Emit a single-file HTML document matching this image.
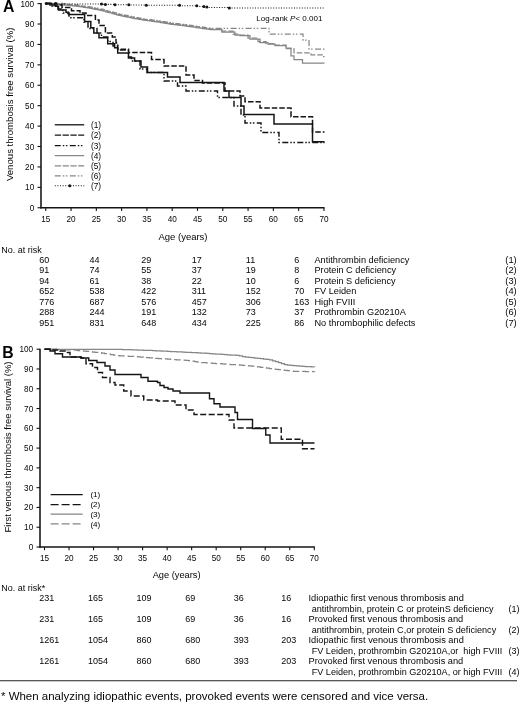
<!DOCTYPE html>
<html><head><meta charset="utf-8"><title>Figure</title>
<style>
html,body{margin:0;padding:0;background:#fff;}
body{width:520px;height:703px;overflow:hidden;font-family:"Liberation Sans", sans-serif;}
svg{display:block;font-family:"Liberation Sans", sans-serif;fill:#050505;will-change:transform;opacity:0.999;}
svg path,svg line{shape-rendering:auto;}
</style></head><body>
<svg width="520" height="703" viewBox="0 0 520 703">
<rect x="0" y="0" width="520" height="703" fill="#ffffff"/>
<line x1="41.00" y1="3.10" x2="41.00" y2="208.45" stroke="#141414" stroke-width="1.55"/><line x1="40.30" y1="207.75" x2="324.54" y2="207.75" stroke="#141414" stroke-width="1.55"/><line x1="37.50" y1="207.75" x2="41.00" y2="207.75" stroke="#141414" stroke-width="1.1"/><text x="34.20" y="210.80" font-size="8.2" text-anchor="end">0</text><line x1="37.50" y1="187.34" x2="41.00" y2="187.34" stroke="#141414" stroke-width="1.1"/><text x="34.20" y="190.39" font-size="8.2" text-anchor="end">10</text><line x1="37.50" y1="166.92" x2="41.00" y2="166.92" stroke="#141414" stroke-width="1.1"/><text x="34.20" y="169.97" font-size="8.2" text-anchor="end">20</text><line x1="37.50" y1="146.50" x2="41.00" y2="146.50" stroke="#141414" stroke-width="1.1"/><text x="34.20" y="149.56" font-size="8.2" text-anchor="end">30</text><line x1="37.50" y1="126.09" x2="41.00" y2="126.09" stroke="#141414" stroke-width="1.1"/><text x="34.20" y="129.14" font-size="8.2" text-anchor="end">40</text><line x1="37.50" y1="105.67" x2="41.00" y2="105.67" stroke="#141414" stroke-width="1.1"/><text x="34.20" y="108.72" font-size="8.2" text-anchor="end">50</text><line x1="37.50" y1="85.26" x2="41.00" y2="85.26" stroke="#141414" stroke-width="1.1"/><text x="34.20" y="88.31" font-size="8.2" text-anchor="end">60</text><line x1="37.50" y1="64.84" x2="41.00" y2="64.84" stroke="#141414" stroke-width="1.1"/><text x="34.20" y="67.89" font-size="8.2" text-anchor="end">70</text><line x1="37.50" y1="44.43" x2="41.00" y2="44.43" stroke="#141414" stroke-width="1.1"/><text x="34.20" y="47.48" font-size="8.2" text-anchor="end">80</text><line x1="37.50" y1="24.01" x2="41.00" y2="24.01" stroke="#141414" stroke-width="1.1"/><text x="34.20" y="27.06" font-size="8.2" text-anchor="end">90</text><line x1="37.50" y1="3.60" x2="41.00" y2="3.60" stroke="#141414" stroke-width="1.1"/><text x="34.20" y="6.65" font-size="8.2" text-anchor="end">100</text><line x1="45.75" y1="207.75" x2="45.75" y2="210.95" stroke="#141414" stroke-width="1.1"/><text x="45.75" y="222.05" font-size="8.2" text-anchor="middle">15</text><line x1="71.04" y1="207.75" x2="71.04" y2="210.95" stroke="#141414" stroke-width="1.1"/><text x="71.04" y="222.05" font-size="8.2" text-anchor="middle">20</text><line x1="96.33" y1="207.75" x2="96.33" y2="210.95" stroke="#141414" stroke-width="1.1"/><text x="96.33" y="222.05" font-size="8.2" text-anchor="middle">25</text><line x1="121.62" y1="207.75" x2="121.62" y2="210.95" stroke="#141414" stroke-width="1.1"/><text x="121.62" y="222.05" font-size="8.2" text-anchor="middle">30</text><line x1="146.91" y1="207.75" x2="146.91" y2="210.95" stroke="#141414" stroke-width="1.1"/><text x="146.91" y="222.05" font-size="8.2" text-anchor="middle">35</text><line x1="172.20" y1="207.75" x2="172.20" y2="210.95" stroke="#141414" stroke-width="1.1"/><text x="172.20" y="222.05" font-size="8.2" text-anchor="middle">40</text><line x1="197.49" y1="207.75" x2="197.49" y2="210.95" stroke="#141414" stroke-width="1.1"/><text x="197.49" y="222.05" font-size="8.2" text-anchor="middle">45</text><line x1="222.78" y1="207.75" x2="222.78" y2="210.95" stroke="#141414" stroke-width="1.1"/><text x="222.78" y="222.05" font-size="8.2" text-anchor="middle">50</text><line x1="248.07" y1="207.75" x2="248.07" y2="210.95" stroke="#141414" stroke-width="1.1"/><text x="248.07" y="222.05" font-size="8.2" text-anchor="middle">55</text><line x1="273.36" y1="207.75" x2="273.36" y2="210.95" stroke="#141414" stroke-width="1.1"/><text x="273.36" y="222.05" font-size="8.2" text-anchor="middle">60</text><line x1="298.65" y1="207.75" x2="298.65" y2="210.95" stroke="#141414" stroke-width="1.1"/><text x="298.65" y="222.05" font-size="8.2" text-anchor="middle">65</text><line x1="323.94" y1="207.75" x2="323.94" y2="210.95" stroke="#141414" stroke-width="1.1"/><text x="323.94" y="222.05" font-size="8.2" text-anchor="middle">70</text>
<line x1="40.00" y1="348.70" x2="40.00" y2="547.70" stroke="#141414" stroke-width="1.55"/><line x1="39.30" y1="547.00" x2="314.88" y2="547.00" stroke="#141414" stroke-width="1.55"/><line x1="36.50" y1="547.00" x2="40.00" y2="547.00" stroke="#141414" stroke-width="1.1"/><text x="33.20" y="550.05" font-size="8.2" text-anchor="end">0</text><line x1="36.50" y1="527.22" x2="40.00" y2="527.22" stroke="#141414" stroke-width="1.1"/><text x="33.20" y="530.27" font-size="8.2" text-anchor="end">10</text><line x1="36.50" y1="507.44" x2="40.00" y2="507.44" stroke="#141414" stroke-width="1.1"/><text x="33.20" y="510.49" font-size="8.2" text-anchor="end">20</text><line x1="36.50" y1="487.66" x2="40.00" y2="487.66" stroke="#141414" stroke-width="1.1"/><text x="33.20" y="490.71" font-size="8.2" text-anchor="end">30</text><line x1="36.50" y1="467.88" x2="40.00" y2="467.88" stroke="#141414" stroke-width="1.1"/><text x="33.20" y="470.93" font-size="8.2" text-anchor="end">40</text><line x1="36.50" y1="448.10" x2="40.00" y2="448.10" stroke="#141414" stroke-width="1.1"/><text x="33.20" y="451.15" font-size="8.2" text-anchor="end">50</text><line x1="36.50" y1="428.32" x2="40.00" y2="428.32" stroke="#141414" stroke-width="1.1"/><text x="33.20" y="431.37" font-size="8.2" text-anchor="end">60</text><line x1="36.50" y1="408.54" x2="40.00" y2="408.54" stroke="#141414" stroke-width="1.1"/><text x="33.20" y="411.59" font-size="8.2" text-anchor="end">70</text><line x1="36.50" y1="388.76" x2="40.00" y2="388.76" stroke="#141414" stroke-width="1.1"/><text x="33.20" y="391.81" font-size="8.2" text-anchor="end">80</text><line x1="36.50" y1="368.98" x2="40.00" y2="368.98" stroke="#141414" stroke-width="1.1"/><text x="33.20" y="372.03" font-size="8.2" text-anchor="end">90</text><line x1="36.50" y1="349.20" x2="40.00" y2="349.20" stroke="#141414" stroke-width="1.1"/><text x="33.20" y="352.25" font-size="8.2" text-anchor="end">100</text><line x1="44.50" y1="547.00" x2="44.50" y2="550.20" stroke="#141414" stroke-width="1.1"/><text x="44.50" y="561.30" font-size="8.2" text-anchor="middle">15</text><line x1="69.03" y1="547.00" x2="69.03" y2="550.20" stroke="#141414" stroke-width="1.1"/><text x="69.03" y="561.30" font-size="8.2" text-anchor="middle">20</text><line x1="93.55" y1="547.00" x2="93.55" y2="550.20" stroke="#141414" stroke-width="1.1"/><text x="93.55" y="561.30" font-size="8.2" text-anchor="middle">25</text><line x1="118.08" y1="547.00" x2="118.08" y2="550.20" stroke="#141414" stroke-width="1.1"/><text x="118.08" y="561.30" font-size="8.2" text-anchor="middle">30</text><line x1="142.60" y1="547.00" x2="142.60" y2="550.20" stroke="#141414" stroke-width="1.1"/><text x="142.60" y="561.30" font-size="8.2" text-anchor="middle">35</text><line x1="167.12" y1="547.00" x2="167.12" y2="550.20" stroke="#141414" stroke-width="1.1"/><text x="167.12" y="561.30" font-size="8.2" text-anchor="middle">40</text><line x1="191.65" y1="547.00" x2="191.65" y2="550.20" stroke="#141414" stroke-width="1.1"/><text x="191.65" y="561.30" font-size="8.2" text-anchor="middle">45</text><line x1="216.18" y1="547.00" x2="216.18" y2="550.20" stroke="#141414" stroke-width="1.1"/><text x="216.18" y="561.30" font-size="8.2" text-anchor="middle">50</text><line x1="240.70" y1="547.00" x2="240.70" y2="550.20" stroke="#141414" stroke-width="1.1"/><text x="240.70" y="561.30" font-size="8.2" text-anchor="middle">55</text><line x1="265.23" y1="547.00" x2="265.23" y2="550.20" stroke="#141414" stroke-width="1.1"/><text x="265.23" y="561.30" font-size="8.2" text-anchor="middle">60</text><line x1="289.75" y1="547.00" x2="289.75" y2="550.20" stroke="#141414" stroke-width="1.1"/><text x="289.75" y="561.30" font-size="8.2" text-anchor="middle">65</text><line x1="314.28" y1="547.00" x2="314.28" y2="550.20" stroke="#141414" stroke-width="1.1"/><text x="314.28" y="561.30" font-size="8.2" text-anchor="middle">70</text>
<path d="M46.20 4.00 H48.40 V4.11 H50.60 V4.22 H52.80 V4.33 H55.00 V4.45 H57.20 V4.56 H59.40 V4.67 H61.60 V4.83 H63.80 V5.01 H66.00 V5.19 H68.20 V5.37 H70.40 V5.55 H72.60 V5.81 H74.80 V6.11 H77.00 V6.40 H79.20 V6.69 H81.40 V6.99 H83.60 V7.28 H85.80 V7.57 H88.00 V7.99 H90.20 V8.41 H92.40 V8.84 H94.60 V9.26 H96.80 V9.69 H99.00 V10.12 H101.20 V10.54 H103.40 V11.13 H105.60 V11.75 H107.80 V12.37 H110.00 V12.99 H112.20 V13.61 H114.40 V14.23 H116.60 V14.84 H118.80 V15.46 H121.00 V15.99 H123.20 V16.41 H125.40 V16.83 H127.60 V17.24 H129.80 V17.66 H132.00 V18.08 H134.20 V18.50 H136.40 V18.92 H138.60 V19.33 H140.80 V19.71 H143.00 V20.02 H145.20 V20.33 H147.40 V20.64 H149.60 V20.94 H151.80 V21.25 H154.00 V21.56 H156.20 V21.87 H158.40 V22.18 H160.60 V22.51 H162.80 V22.90 H165.00 V23.30 H167.20 V23.70 H169.40 V24.09 H171.60 V24.39 H173.80 V24.66 H176.00 V24.92 H178.20 V25.18 H180.40 V25.45 H182.60 V25.71 H184.80 V25.98 H187.00 V26.29 H189.20 V26.60 H191.40 V26.92 H193.60 V27.24 H195.80 V27.56 H198.00 V27.87 H200.20 V28.19 H202.40 V28.51 H204.60 V28.82 H206.80 V29.14 H209.00 V29.46 H210.00 V29.60 H222.00 V32.00 H235.00 V35.00 H240.00 V35.60 H250.00 V39.00 H260.00 V42.50 H268.00 V44.00 H275.00 V45.50 H286.00 V48.00 H291.00 V55.80 H294.00 V59.60 H302.50 V63.00 H324.50 V63.00" fill="none" stroke="#868686" stroke-width="1.25"/>
<path d="M46.20 3.40 H49.30 V3.56 H52.40 V3.71 H55.50 V3.87 H58.60 V4.03 H61.70 V4.24 H64.80 V4.49 H67.90 V4.75 H71.00 V5.00 H74.10 V5.41 H77.20 V5.83 H80.30 V6.24 H83.40 V6.65 H86.50 V7.10 H89.60 V7.70 H92.70 V8.30 H95.80 V8.90 H98.90 V9.50 H102.00 V10.14 H105.10 V11.01 H108.20 V11.88 H111.30 V12.75 H114.40 V13.63 H117.50 V14.50 H120.60 V15.31 H123.70 V15.90 H126.80 V16.49 H129.90 V17.08 H133.00 V17.67 H136.10 V18.26 H139.20 V18.85 H142.30 V19.32 H145.40 V19.76 H148.50 V20.19 H151.60 V20.62 H154.70 V21.06 H157.80 V21.49 H160.90 V21.96 H164.00 V22.52 H167.10 V23.08 H170.20 V23.62 H173.30 V24.00 H176.40 V24.37 H179.50 V24.74 H182.60 V25.11 H185.70 V25.50 H188.80 V25.95 H191.90 V26.39 H195.00 V26.84 H198.10 V27.29 H201.20 V27.73 H204.30 V28.18 H207.40 V28.63 H210.00 V29.00 H220.00 V31.20 H233.00 V34.20 H240.00 V35.20 H248.00 V38.00 H258.00 V41.50 H266.00 V43.50 H275.00 V45.00 H286.00 V48.50 H294.00 V52.90 H311.00 V54.80 H323.60 V56.70 H324.50 V56.70" fill="none" stroke="#868686" stroke-width="1.25" stroke-dasharray="5.5 2"/>
<path d="M46.20 2.80 H48.90 V2.94 H51.60 V3.07 H54.30 V3.21 H57.00 V3.35 H59.70 V3.48 H62.40 V3.70 H65.10 V3.92 H67.80 V4.14 H70.50 V4.36 H73.20 V4.69 H75.90 V5.05 H78.60 V5.41 H81.30 V5.77 H84.00 V6.13 H86.70 V6.54 H89.40 V7.06 H92.10 V7.58 H94.80 V8.10 H97.50 V8.63 H100.20 V9.15 H102.90 V9.79 H105.60 V10.55 H108.30 V11.31 H111.00 V12.07 H113.70 V12.83 H116.40 V13.59 H119.10 V14.35 H121.80 V14.94 H124.50 V15.46 H127.20 V15.97 H129.90 V16.48 H132.60 V16.99 H135.30 V17.51 H138.00 V18.02 H140.70 V18.50 H143.40 V18.88 H146.10 V19.25 H148.80 V19.63 H151.50 V20.01 H154.20 V20.39 H156.90 V20.77 H159.60 V21.14 H162.30 V21.61 H165.00 V22.10 H167.70 V22.59 H170.40 V23.05 H173.10 V23.37 H175.80 V23.70 H178.50 V24.02 H181.20 V24.34 H183.90 V24.67 H186.60 V25.03 H189.30 V25.42 H192.00 V25.81 H194.70 V26.20 H197.40 V26.59 H200.10 V26.97 H202.80 V27.36 H205.50 V27.75 H208.20 V28.14 H210.00 V28.40 H269.00 V34.20 H303.00 V40.00 H309.00 V49.00 H324.50 V49.00" fill="none" stroke="#868686" stroke-width="1.25" stroke-dasharray="6 2 1.5 1.6 1.5 2.4"/>
<path d="M46.20 3.60 H52.00 V6.00 H58.00 V9.00 H63.00 V13.00 H69.00 V17.70 H84.00 V22.00 H88.00 V28.50 H97.00 V33.00 H101.50 V37.00 H107.70 V41.50 H113.00 V46.00 H117.70 V50.00 H128.50 V57.00 H131.50 V61.00 H140.00 V69.00 H147.00 V72.50 H164.00 V81.00 H177.50 V86.00 H186.00 V91.00 H217.50 V97.50 H234.00 V106.00 H241.00 V115.00 H245.00 V123.00 H261.00 V132.50 H279.00 V142.50 H324.50 V142.50" fill="none" stroke="#141414" stroke-width="1.45" stroke-dasharray="6 2 1.5 1.6 1.5 2.4"/>
<path d="M46.20 3.60 H55.00 V5.00 H62.00 V7.40 H71.50 V10.80 H80.00 V13.00 H86.00 V15.40 H95.40 V20.00 H99.00 V25.40 H105.40 V33.00 H112.30 V37.00 H116.00 V43.00 H117.70 V49.20 H128.50 V52.60 H151.50 V59.50 H164.00 V66.00 H186.00 V75.00 H194.00 V80.50 H202.50 V83.00 H225.00 V91.00 H240.00 V96.00 H245.00 V101.75 H260.00 V108.00 H291.00 V116.75 H312.50 V132.00 H324.50 V132.00" fill="none" stroke="#141414" stroke-width="1.5" stroke-dasharray="5.5 2"/>
<path d="M46.20 3.60 H50.00 V5.00 H55.40 V6.20 H58.50 V10.00 H66.00 V12.30 H68.50 V14.60 H84.60 V21.50 H90.80 V27.70 H93.80 V33.00 H99.00 V37.70 H107.70 V43.80 H114.60 V47.70 H117.70 V53.00 H128.50 V58.00 H134.60 V61.00 H141.00 V67.00 H147.50 V72.50 H167.50 V77.00 H180.00 V82.50 H224.00 V91.00 H229.00 V97.50 H241.00 V106.00 H244.00 V114.50 H274.00 V124.00 H312.50 V141.75 H324.50 V141.75" fill="none" stroke="#141414" stroke-width="1.5"/>
<path d="M46.20 3.60 H56.00 V4.00 H102.00 V4.40 H115.00 V4.70 H129.00 V5.00 H146.00 V5.30 H180.00 V5.80 H197.00 V6.50 H204.00 V7.00 H207.00 V7.50 H229.00 V8.00 H324.50 V8.00" fill="none" stroke="#141414" stroke-width="1.1" stroke-dasharray="1 1.6"/>
<circle cx="46.20" cy="3.60" r="1.5" fill="#141414"/>
<circle cx="55.80" cy="3.60" r="1.5" fill="#141414"/>
<circle cx="101.50" cy="4.00" r="1.5" fill="#141414"/>
<circle cx="105.40" cy="4.40" r="1.5" fill="#141414"/>
<circle cx="115.00" cy="4.70" r="1.5" fill="#141414"/>
<circle cx="128.80" cy="4.70" r="1.5" fill="#141414"/>
<circle cx="146.30" cy="5.30" r="1.5" fill="#141414"/>
<circle cx="179.50" cy="5.30" r="1.5" fill="#141414"/>
<circle cx="196.80" cy="5.80" r="1.5" fill="#141414"/>
<circle cx="203.80" cy="6.50" r="1.5" fill="#141414"/>
<circle cx="206.80" cy="7.00" r="1.5" fill="#141414"/>
<circle cx="229.30" cy="8.00" r="1.5" fill="#141414"/>
<line x1="54.8" y1="124.80" x2="84.2" y2="124.80" stroke="#141414" stroke-width="1.3"/>
<text x="90.9" y="127.80" font-size="8.3">(1)</text>
<line x1="54.8" y1="135.20" x2="84.2" y2="135.20" stroke="#141414" stroke-width="1.3" stroke-dasharray="6.3 1.5"/>
<text x="90.9" y="138.20" font-size="8.3">(2)</text>
<line x1="54.8" y1="145.60" x2="84.2" y2="145.60" stroke="#141414" stroke-width="1.2" stroke-dasharray="6 2 1.5 1.6 1.5 2.4"/>
<text x="90.9" y="148.60" font-size="8.3">(3)</text>
<line x1="54.8" y1="155.60" x2="84.2" y2="155.60" stroke="#868686" stroke-width="1.25"/>
<text x="90.9" y="158.60" font-size="8.3">(4)</text>
<line x1="54.8" y1="165.80" x2="84.2" y2="165.80" stroke="#868686" stroke-width="1.25" stroke-dasharray="6.3 1.5"/>
<text x="90.9" y="168.80" font-size="8.3">(5)</text>
<line x1="54.8" y1="175.80" x2="84.2" y2="175.80" stroke="#868686" stroke-width="1.25" stroke-dasharray="6 2 1.5 1.6 1.5 2.4"/>
<text x="90.9" y="178.80" font-size="8.3">(6)</text>
<line x1="54.8" y1="185.80" x2="84.2" y2="185.80" stroke="#141414" stroke-width="1.1" stroke-dasharray="1 1.6"/>
<text x="90.9" y="188.80" font-size="8.3">(7)</text>
<circle cx="69.8" cy="185.8" r="1.5" fill="#141414"/>
<path d="M44.50 349.20 H47.50 V349.21 H50.50 V349.22 H53.50 V349.23 H56.50 V349.25 H59.50 V349.26 H62.50 V349.27 H65.50 V349.28 H68.50 V349.29 H71.50 V349.30 H74.50 V349.32 H77.50 V349.33 H80.50 V349.34 H83.50 V349.35 H86.50 V349.36 H89.50 V349.37 H92.50 V349.38 H95.50 V349.40 H98.50 V349.41 H101.50 V349.42 H104.50 V349.43 H107.50 V349.44 H110.50 V349.45 H113.50 V349.47 H116.50 V349.48 H119.50 V349.49 H122.50 V349.50 H125.50 V349.61 H128.50 V349.72 H131.50 V349.83 H134.50 V349.94 H137.50 V350.05 H140.50 V350.15 H143.50 V350.26 H146.50 V350.37 H149.50 V350.48 H152.50 V350.62 H155.50 V350.77 H158.50 V350.93 H161.50 V351.07 H164.50 V351.23 H167.50 V351.38 H170.50 V351.52 H173.50 V351.68 H176.50 V351.82 H179.50 V351.98 H182.50 V352.12 H185.50 V352.27 H188.50 V352.43 H191.50 V352.57 H194.50 V352.73 H197.50 V352.88 H200.50 V353.03 H203.50 V353.23 H206.50 V353.43 H209.50 V353.63 H212.50 V353.83 H215.50 V354.03 H218.50 V354.23 H221.50 V354.43 H224.50 V354.63 H227.50 V354.83 H230.50 V355.03 H233.50 V355.23 H236.50 V355.43 H239.50 V355.90 H242.50 V356.50 H245.50 V357.06 H248.50 V357.39 H251.50 V357.72 H254.50 V358.06 H257.50 V358.39 H260.50 V358.72 H263.50 V359.06 H266.50 V359.39 H269.50 V359.90 H272.50 V360.78 H275.50 V361.72 H278.50 V362.66 H281.50 V363.59 H284.50 V364.53 H287.50 V365.13 H290.50 V365.40 H293.50 V365.67 H296.50 V365.94 H299.50 V366.21 H302.50 V366.38 H305.50 V366.53 H308.50 V366.69 H311.50 V366.84 H314.50 V367.00" fill="none" stroke="#868686" stroke-width="1.25"/>
<path d="M44.50 349.20 H47.50 V349.29 H50.50 V349.37 H53.50 V349.46 H56.50 V349.54 H59.50 V349.63 H62.50 V349.71 H65.50 V349.80 H68.50 V349.89 H71.50 V349.97 H74.50 V350.20 H77.50 V350.50 H80.50 V350.80 H83.50 V351.10 H86.50 V351.40 H89.50 V351.70 H92.50 V352.00 H95.50 V352.30 H98.50 V352.67 H101.50 V353.19 H104.50 V353.70 H107.50 V354.21 H110.50 V354.73 H113.50 V355.24 H116.50 V355.59 H119.50 V355.77 H122.50 V355.95 H125.50 V356.13 H128.50 V356.31 H131.50 V356.49 H134.50 V356.67 H137.50 V356.85 H140.50 V357.05 H143.50 V357.35 H146.50 V357.65 H149.50 V357.95 H152.50 V358.17 H155.50 V358.37 H158.50 V358.57 H161.50 V358.77 H164.50 V358.97 H167.50 V359.17 H170.50 V359.37 H173.50 V359.57 H176.50 V359.77 H179.50 V359.97 H182.50 V360.17 H185.50 V360.37 H188.50 V360.66 H191.50 V361.14 H194.50 V361.62 H197.50 V362.10 H200.50 V362.53 H203.50 V362.73 H206.50 V362.93 H209.50 V363.13 H212.50 V363.33 H215.50 V363.53 H218.50 V363.73 H221.50 V363.93 H224.50 V364.13 H227.50 V364.33 H230.50 V364.53 H233.50 V364.73 H236.50 V364.93 H239.50 V365.13 H242.50 V365.33 H245.50 V365.56 H248.50 V365.90 H251.50 V366.24 H254.50 V366.59 H257.50 V366.93 H260.50 V367.27 H263.50 V367.67 H266.50 V368.17 H269.50 V368.67 H272.50 V369.03 H275.50 V369.36 H278.50 V369.69 H281.50 V370.03 H284.50 V370.36 H287.50 V370.69 H290.50 V371.03 H293.50 V371.27 H296.50 V371.34 H299.50 V371.41 H302.50 V371.48 H305.50 V371.55 H308.50 V371.61 H311.50 V371.68 H314.50 V371.75" fill="none" stroke="#868686" stroke-width="1.25" stroke-dasharray="7 3"/>
<path d="M44.50 349.20 H52.00 V350.00 H60.00 V351.00 H66.00 V352.50 H70.00 V357.00 H81.00 V358.00 H86.00 V363.75 H92.50 V367.50 H97.50 V372.50 H102.50 V377.50 H110.00 V382.50 H115.00 V385.00 H123.75 V391.00 H131.00 V396.00 H143.75 V400.00 H157.50 V401.00 H175.00 V405.00 H186.00 V410.00 H194.00 V414.50 H229.00 V420.00 H234.00 V428.00 H281.25 V439.25 H302.50 V448.75 H314.50 V448.75" fill="none" stroke="#141414" stroke-width="1.4" stroke-dasharray="6 2.5"/>
<path d="M44.50 349.20 H50.00 V351.00 H55.00 V353.75 H62.50 V357.00 H81.00 V358.00 H88.75 V360.50 H97.00 V362.50 H105.00 V366.00 H110.00 V370.00 H115.00 V374.50 H141.00 V377.50 H148.00 V381.25 H157.50 V382.50 H160.00 V385.50 H164.00 V387.50 H168.00 V389.00 H173.00 V391.00 H180.00 V393.00 H209.50 V398.75 H214.00 V403.75 H220.00 V407.00 H235.00 V412.50 H237.50 V419.50 H252.50 V428.50 H265.75 V435.00 H270.00 V443.00 H314.50 V443.00" fill="none" stroke="#141414" stroke-width="1.4"/>
<line x1="50.6" y1="494.60" x2="82.7" y2="494.60" stroke="#141414" stroke-width="1.4"/>
<text x="90.4" y="497.40" font-size="8.1">(1)</text>
<line x1="50.6" y1="504.60" x2="82.7" y2="504.60" stroke="#141414" stroke-width="1.4" stroke-dasharray="8 3"/>
<text x="90.4" y="507.40" font-size="8.1">(2)</text>
<line x1="50.6" y1="514.20" x2="82.7" y2="514.20" stroke="#868686" stroke-width="1.25"/>
<text x="90.4" y="517.00" font-size="8.1">(3)</text>
<line x1="50.6" y1="523.80" x2="82.7" y2="523.80" stroke="#868686" stroke-width="1.25" stroke-dasharray="8 3"/>
<text x="90.4" y="526.60" font-size="8.1">(4)</text>
<text x="2.9" y="11.8" font-size="15.8" font-weight="bold">A</text>
<text x="2.3" y="358" font-size="15.8" font-weight="bold">B</text>
<text transform="translate(12.7,104.3) rotate(-90)" font-size="9.6" text-anchor="middle">Venous thrombosis free survival (%)</text>
<text transform="translate(11.4,447.0) rotate(-90)" font-size="9.45" text-anchor="middle">First venous thrombosis free survival (%)</text>
<text x="256.3" y="21" font-size="8">Log-rank <tspan font-style="italic">P</tspan>&lt; 0.001</text>
<text x="183" y="239.5" font-size="9.5" text-anchor="middle">Age (years)</text>
<text x="176.6" y="577.7" font-size="9.25" text-anchor="middle">Age (years)</text>
<text x="1.3" y="252.5" font-size="9">No. at risk</text>
<text x="1.2" y="590.6" font-size="9">No. at risk*</text>
<text x="39.3" y="262.50" font-size="9">60</text>
<text x="89.5" y="262.50" font-size="9">44</text>
<text x="141.2" y="262.50" font-size="9">29</text>
<text x="191.7" y="262.50" font-size="9">17</text>
<text x="245.8" y="262.50" font-size="9">11</text>
<text x="294.3" y="262.50" font-size="9">6</text>
<text x="314.5" y="262.50" font-size="9.18">Antithrombin deficiency</text>
<text x="505.3" y="262.50" font-size="9.3">(1)</text>
<text x="39.3" y="273.08" font-size="9">91</text>
<text x="89.5" y="273.08" font-size="9">74</text>
<text x="141.2" y="273.08" font-size="9">55</text>
<text x="191.7" y="273.08" font-size="9">37</text>
<text x="245.8" y="273.08" font-size="9">19</text>
<text x="294.3" y="273.08" font-size="9">8</text>
<text x="314.5" y="273.08" font-size="9.18">Protein C deficiency</text>
<text x="505.3" y="273.08" font-size="9.3">(2)</text>
<text x="39.3" y="283.66" font-size="9">94</text>
<text x="89.5" y="283.66" font-size="9">61</text>
<text x="141.2" y="283.66" font-size="9">38</text>
<text x="191.7" y="283.66" font-size="9">22</text>
<text x="245.8" y="283.66" font-size="9">10</text>
<text x="294.3" y="283.66" font-size="9">6</text>
<text x="314.5" y="283.66" font-size="9.18">Protein S deficiency</text>
<text x="505.3" y="283.66" font-size="9.3">(3)</text>
<text x="39.3" y="294.24" font-size="9">652</text>
<text x="89.5" y="294.24" font-size="9">538</text>
<text x="141.2" y="294.24" font-size="9">422</text>
<text x="191.7" y="294.24" font-size="9">311</text>
<text x="245.8" y="294.24" font-size="9">152</text>
<text x="294.3" y="294.24" font-size="9">70</text>
<text x="314.5" y="294.24" font-size="9.18">FV Leiden</text>
<text x="505.3" y="294.24" font-size="9.3">(4)</text>
<text x="39.3" y="304.82" font-size="9">776</text>
<text x="89.5" y="304.82" font-size="9">687</text>
<text x="141.2" y="304.82" font-size="9">576</text>
<text x="191.7" y="304.82" font-size="9">457</text>
<text x="245.8" y="304.82" font-size="9">306</text>
<text x="294.3" y="304.82" font-size="9">163</text>
<text x="314.5" y="304.82" font-size="9.18">High FVIII</text>
<text x="505.3" y="304.82" font-size="9.3">(5)</text>
<text x="39.3" y="315.40" font-size="9">288</text>
<text x="89.5" y="315.40" font-size="9">244</text>
<text x="141.2" y="315.40" font-size="9">191</text>
<text x="191.7" y="315.40" font-size="9">132</text>
<text x="245.8" y="315.40" font-size="9">73</text>
<text x="294.3" y="315.40" font-size="9">37</text>
<text x="314.5" y="315.40" font-size="9.18">Prothrombin G20210A</text>
<text x="505.3" y="315.40" font-size="9.3">(6)</text>
<text x="39.3" y="325.98" font-size="9">951</text>
<text x="89.5" y="325.98" font-size="9">831</text>
<text x="141.2" y="325.98" font-size="9">648</text>
<text x="191.7" y="325.98" font-size="9">434</text>
<text x="245.8" y="325.98" font-size="9">225</text>
<text x="294.3" y="325.98" font-size="9">86</text>
<text x="314.5" y="325.98" font-size="9.18">No thrombophilic defects</text>
<text x="505.3" y="325.98" font-size="9.3">(7)</text>
<text x="39.3" y="600.80" font-size="9">231</text>
<text x="88.0" y="600.80" font-size="9">165</text>
<text x="136.5" y="600.80" font-size="9">109</text>
<text x="185.3" y="600.80" font-size="9">69</text>
<text x="233.8" y="600.80" font-size="9">36</text>
<text x="281.3" y="600.80" font-size="9">16</text>
<text x="308.5" y="600.80" font-size="9.25">Idiopathic first venous thrombosis and</text>
<text x="311.7" y="611.50" font-size="9.1" xml:space="preserve">antithrombin, protein C or proteinS deficiency</text>
<text x="508.5" y="611.50" font-size="9">(1)</text>
<text x="39.3" y="621.95" font-size="9">231</text>
<text x="88.0" y="621.95" font-size="9">165</text>
<text x="136.5" y="621.95" font-size="9">109</text>
<text x="185.3" y="621.95" font-size="9">69</text>
<text x="233.8" y="621.95" font-size="9">36</text>
<text x="281.3" y="621.95" font-size="9">16</text>
<text x="308.5" y="621.95" font-size="9.25">Provoked first venous thrombosis and</text>
<text x="311.7" y="632.65" font-size="9.1" xml:space="preserve">antithrombin, protein C,or protein S deficiency</text>
<text x="508.5" y="632.65" font-size="9">(2)</text>
<text x="39.3" y="643.10" font-size="9">1261</text>
<text x="88.0" y="643.10" font-size="9">1054</text>
<text x="136.5" y="643.10" font-size="9">860</text>
<text x="185.3" y="643.10" font-size="9">680</text>
<text x="233.8" y="643.10" font-size="9">393</text>
<text x="281.3" y="643.10" font-size="9">203</text>
<text x="308.5" y="643.10" font-size="9.25">Idiopathic first venous thrombosis and</text>
<text x="311.7" y="653.80" font-size="9.1" xml:space="preserve">FV Leiden, prothrombin G20210A,or  high FVIII</text>
<text x="508.5" y="653.80" font-size="9">(3)</text>
<text x="39.3" y="664.25" font-size="9">1261</text>
<text x="88.0" y="664.25" font-size="9">1054</text>
<text x="136.5" y="664.25" font-size="9">860</text>
<text x="185.3" y="664.25" font-size="9">680</text>
<text x="233.8" y="664.25" font-size="9">393</text>
<text x="281.3" y="664.25" font-size="9">203</text>
<text x="308.5" y="664.25" font-size="9.25">Provoked first venous thrombosis and</text>
<text x="311.7" y="674.95" font-size="9.1" xml:space="preserve">FV Leiden, prothrombin G20210A, or high FVIII</text>
<text x="508.5" y="674.95" font-size="9">(4)</text>
<line x1="0" y1="680.7" x2="517" y2="680.7" stroke="#222" stroke-width="1.1"/>
<text x="1" y="699.7" font-size="11.48">* When analyzing idiopathic events, provoked events were censored and vice versa.</text>
</svg>
</body></html>
